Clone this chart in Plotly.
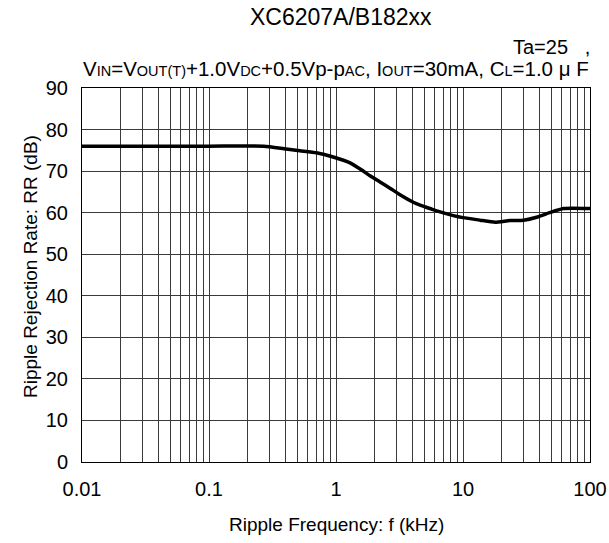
import plotly.graph_objects as go

# Data
freq_khz = [0.01, 0.1, 0.27, 0.39, 0.52, 0.7, 0.95, 1.29, 1.55, 1.85, 2.22, 2.66, 3.19, 4.06,
            4.6, 5.5, 6.4, 8.4, 10, 13.6, 17.9, 23.4, 30, 38, 48, 62, 100]
rr_db = [76.0, 76.0, 76.0, 75.4, 74.9, 74.4, 73.4, 72.0, 70.5, 68.9, 67.4, 65.9, 64.3, 62.5,
         61.8, 61.0, 60.3, 59.3, 58.8, 58.2, 57.7, 58.1, 58.2, 58.9, 60.0, 61.0, 61.0]

x_tickvals = [0.01, 0.1, 1, 10, 100]
x_ticktext = ["0.01", "0.1", "1", "10", "100"]
y_tickvals = [0, 10, 20, 30, 40, 50, 60, 70, 80, 90]
minor_vals = [m * 10 ** e for e in range(-2, 2) for m in range(2, 10)]

title_text = "XC6207A/B182xx"
temp_text = "Ta=25   ,"
sub = "<span style='font-size:14.5px'>{}</span>"
cond_text = ("V" + sub.format("IN") + "=V" + sub.format("OUT(T)") + "+1.0V" + sub.format("DC")
             + "+0.5Vp-p" + sub.format("AC") + ", I" + sub.format("OUT") + "=30mA, C"
             + sub.format("L") + "=1.0 μ F")
x_title = "Ripple Frequency: f (kHz)"
y_title = "Ripple Rejection Rate: RR (dB)"

FONT = "Liberation Sans, Arial, sans-serif"
GRID = "#3a3a3a"

fig = go.Figure()
fig.add_trace(go.Scatter(x=freq_khz, y=rr_db, mode="lines",
                         line=dict(color="black", width=3.5, shape="spline", smoothing=0.5),
                         showlegend=False))

fig.update_layout(
    width=609, height=543,
    margin=dict(l=82, r=19, t=88, b=81, autoexpand=False),
    paper_bgcolor="white", plot_bgcolor="white",
    font=dict(family=FONT, color="black"),
    showlegend=False,
)
fig.update_xaxes(
    type="log", range=[-2, 2], tickmode="array", tickvals=x_tickvals, ticktext=x_ticktext,
    showgrid=True, gridcolor=GRID, gridwidth=1,
    minor=dict(tickmode="array", tickvals=minor_vals, showgrid=True, gridcolor=GRID, gridwidth=1),
    showline=True, linecolor="black", linewidth=1, mirror=True,
    ticks="", tickfont=dict(size=20, family=FONT), ticklabelstandoff=9,
    zeroline=False, automargin=False,
)
fig.update_yaxes(
    range=[0, 90], tickmode="array", tickvals=y_tickvals,
    showgrid=True, gridcolor=GRID, gridwidth=1,
    showline=True, linecolor="black", linewidth=1, mirror=True,
    ticks="", tickfont=dict(size=20, family=FONT), ticklabelstandoff=9,
    zeroline=False, automargin=False,
)

ph = 543 - 88 - 81
def py(pix):
    return 1 + (88 - pix) / ph

fig.add_annotation(text=title_text, xref="paper", yref="paper", x=(341 - 82) / 508, y=py(17),
                   xanchor="center", yanchor="middle", showarrow=False,
                   font=dict(size=23, family=FONT))
fig.add_annotation(text=temp_text, xref="paper", yref="paper", x=(592 - 82) / 508, y=py(47),
                   xanchor="right", yanchor="middle", showarrow=False,
                   font=dict(size=20, family=FONT))
fig.add_annotation(text=cond_text, xref="paper", yref="paper", x=0.5, y=py(68),
                   xanchor="center", yanchor="middle", showarrow=False,
                   font=dict(size=20.5, family=FONT))
fig.add_annotation(text=x_title, xref="paper", yref="paper", x=0.5, y=py(524),
                   xanchor="center", yanchor="middle", showarrow=False,
                   font=dict(size=19, family=FONT))
fig.add_annotation(text=y_title, xref="paper", yref="paper", x=(30 - 82) / 508, y=py(267),
                   xanchor="center", yanchor="middle", showarrow=False, textangle=-90,
                   font=dict(size=19, family=FONT))

fig.write_html("out.html", config={"displayModeBar": False},
               post_script="document.body.style.margin='0';")
